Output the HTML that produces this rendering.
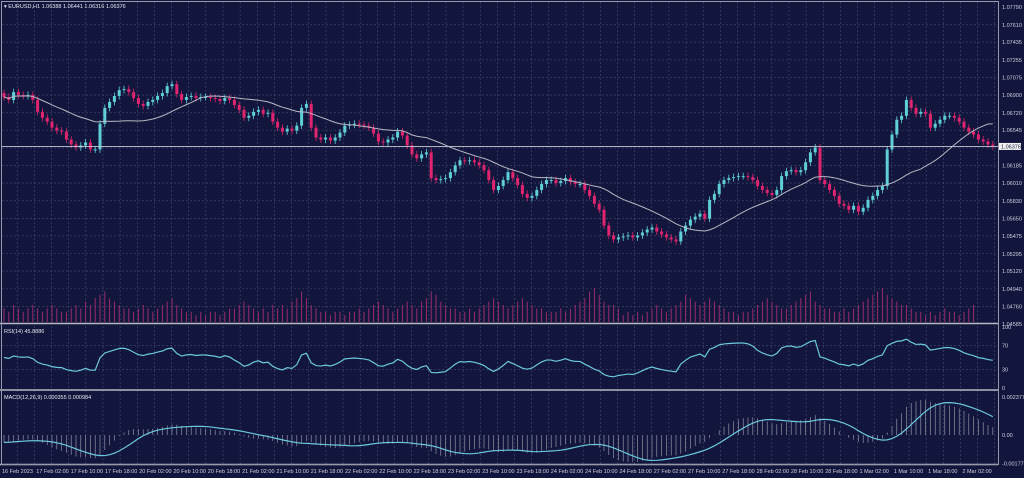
<!DOCTYPE html>
<html><head><meta charset="utf-8"><style>
html,body{margin:0;padding:0;background:#12163c;}
svg{display:block;font-family:"Liberation Sans",sans-serif;}
</style></head><body>
<svg id="chart" width="1024" height="478" viewBox="0 0 1024 478">
<rect x="0" y="0" width="1024" height="478" fill="#12163c"/>
<g id="grid"></g>
<g id="vol"></g>
<g id="candles"></g>
<g id="ind"></g>
<g id="axes"></g>
<text x="4" y="8" font-size="5.5" fill="#e8e8f0">▾ EURUSD,H1  1.06388 1.06441 1.06316 1.06376</text>
<text x="4" y="333" font-size="5.5" fill="#e8e8f0">RSI(14) 45.8886</text>
<text x="4" y="399" font-size="5.5" fill="#e8e8f0">MACD(12,26,9) 0.000355 0.000984</text>
</svg>
<script>
const closes=[1.0688,1.0685,1.0693,1.0690,1.0689,1.0690,1.0685,1.0673,1.0667,1.0663,1.0657,1.0654,1.0653,1.0645,1.0640,1.0637,1.0639,1.0642,1.0635,1.0635,
1.0661,1.0677,1.0683,1.0689,1.0695,1.0696,1.0693,1.0687,1.0681,1.0679,1.0683,1.0685,1.0689,1.0692,1.0699,1.0701,1.0691,1.0685,1.0688,1.0689,
1.0687,1.0688,1.0688,1.0687,1.0686,1.0684,1.0687,1.0685,1.0680,1.0675,1.0667,1.0669,1.0673,1.0675,1.0671,1.0672,1.0663,1.0657,1.0653,1.0656,
1.0654,1.0659,1.0677,1.0681,1.0657,1.0647,1.0645,1.0647,1.0644,1.0647,1.0652,1.0659,1.0660,1.0661,1.0660,1.0659,1.0657,1.0651,1.0643,1.0642,
1.0645,1.0647,1.0653,1.0649,1.0639,1.0630,1.0626,1.0630,1.0632,1.0606,1.0604,1.0605,1.0606,1.0612,1.0619,1.0624,1.0623,1.0624,1.0622,1.0619,
1.0614,1.0604,1.0594,1.0598,1.0604,1.0612,1.0606,1.0599,1.0590,1.0586,1.0588,1.0594,1.0600,1.0604,1.0604,1.0601,1.0603,1.0606,1.0602,1.0600,
1.0600,1.0594,1.0588,1.0580,1.0574,1.0558,1.0548,1.0544,1.0546,1.0547,1.0548,1.0546,1.0548,1.0551,1.0554,1.0556,1.0552,1.0549,1.0546,1.0544,
1.0542,1.0552,1.0558,1.0564,1.0567,1.0570,1.0565,1.0584,1.0590,1.0600,1.0604,1.0606,1.0607,1.0608,1.0608,1.0607,1.0604,1.0598,1.0594,1.0591,
1.0589,1.0594,1.0608,1.0613,1.0614,1.0612,1.0614,1.0622,1.0632,1.0637,1.0604,1.0600,1.0594,1.0588,1.0580,1.0578,1.0574,1.0578,1.0572,1.0576,
1.0584,1.0588,1.0594,1.0598,1.0635,1.0650,1.0665,1.0669,1.0685,1.0677,1.0671,1.0673,1.0671,1.0657,1.0661,1.0665,1.0669,1.0669,1.0667,1.0663,
1.0657,1.0653,1.0650,1.0645,1.0643,1.0640,1.0638];
const volumes=[4,3,5,4,3,4,5,4,3,4,5,4,3,3,4,5,4,6,5,7,8,9,7,6,5,4,4,3,4,5,4,3,4,5,6,7,5,4,3,3,2,3,2,3,3,2,3,4,4,5,6,5,4,3,4,3,5,4,5,4,6,7,9,7,5,4,3,3,2,3,
3,2,3,3,4,3,4,5,6,5,4,3,4,5,6,5,4,6,7,9,8,6,5,4,4,3,3,4,3,4,5,6,7,6,5,4,5,6,7,6,5,4,4,3,3,3,4,3,4,5,6,7,9,10,8,6,5,5,4,2,3,2,3,2,3,4,
5,4,3,4,5,6,8,7,6,5,6,7,6,5,4,3,3,2,3,3,4,5,6,7,6,5,4,4,5,6,7,8,9,6,5,4,4,3,3,4,3,4,5,6,7,8,9,10,8,7,6,5,5,4,3,3,2,3,2,3,4,3,3,2,3,4,5];
const priceTicks=["1.07790","1.07610","1.07435","1.07255","1.07075","1.06900","1.06720","1.06545","1.06365","1.06185","1.06010","1.05830","1.05650","1.05475","1.05295","1.05120","1.04940","1.04760","1.04585"];
const timeLabels=["16 Feb 2023","17 Feb 02:00","17 Feb 10:00","17 Feb 18:00","20 Feb 02:00","20 Feb 10:00","20 Feb 18:00","21 Feb 02:00","21 Feb 10:00","21 Feb 18:00","22 Feb 02:00","22 Feb 10:00","22 Feb 18:00","23 Feb 02:00","23 Feb 10:00","23 Feb 18:00","24 Feb 02:00","24 Feb 10:00","24 Feb 18:00","27 Feb 02:00","27 Feb 10:00","27 Feb 18:00","28 Feb 02:00","28 Feb 10:00","28 Feb 18:00","1 Mar 02:00","1 Mar 10:00","1 Mar 18:00","2 Mar 02:00"];
const rsiTicks=[100,70,30,0];
const macdTicks=[0.002377,0,-0.001779];
const macdTickLabels=["0.002377","0.00","-0.001779"];
const firstOpen=1.0692;

const NS="http://www.w3.org/2000/svg";
function mk(tag,attrs,parent){const e=document.createElementNS(NS,tag);for(const k in attrs)e.setAttribute(k,attrs[k]);parent.appendChild(e);return e;}
const yP=p=>7+(1.0779-p)*9890;
const xC=i=>4+i*4.8;
const yR=v=>388-v*0.61;
const yM=v=>435-v*16000;
const yV=v=>322-v*3.4;
const grid=document.getElementById('grid'),vol=document.getElementById('vol'),cg=document.getElementById('candles'),ind=document.getElementById('ind'),ax=document.getElementById('axes');
const GC="#454b78";
for(let x=17.2;x<998;x+=17.15){const l=mk('line',{x1:x,y1:2,x2:x,y2:464,stroke:GC,'stroke-width':0.6,'stroke-dasharray':'2,2'},grid);

}
priceTicks.forEach((t,i)=>{const y=yP(parseFloat(t));if(i>0&&i<priceTicks.length-1){const l=mk('line',{x1:2,y1:y,x2:998,y2:y,stroke:GC,'stroke-width':0.6,'stroke-dasharray':'2,2'},grid);

}
if(t!=="1.06365"){const tx=mk('text',{x:1002,y:y+2,'font-size':5.5,fill:'#d0d0e0'},ax);tx.textContent=t;

}});
[70,30].forEach(v=>{const l=mk('line',{x1:2,y1:yR(v),x2:998,y2:yR(v),stroke:GC,'stroke-width':0.6,'stroke-dasharray':'2,2'},grid);

});
volumes.forEach((v,i)=>{if(i>=closes.length)return;const l=mk('line',{x1:xC(i),y1:322,x2:xC(i),y2:yV(v),stroke:'#9a2c6a','stroke-width':1},vol);

});
closes.forEach((c,i)=>{const o=i?closes[i-1]:firstOpen;const up=c>=o;const col=up?'#5fd0d8':'#e0246e';const x=xC(i);
const hi=Math.max(o,c)+0.00035,lo=Math.min(o,c)-0.00035;
const w=mk('line',{x1:x,y1:yP(hi),x2:x,y2:yP(lo),stroke:col,'stroke-width':0.8},cg);


const top=yP(Math.max(o,c)),h=Math.max(1,Math.abs(yP(o)-yP(c)));
const b=mk('rect',{x:x-1.5,y:top,width:3,height:h,fill:col},cg);

});
let ma=[];closes.forEach((c,i)=>{const s=closes.slice(Math.max(0,i-21),i+1);ma.push(s.reduce((a,b)=>a+b,0)/s.length);});
const maP=mk('polyline',{points:ma.map((v,i)=>xC(i)+','+yP(v)).join(' '),fill:'none',stroke:'#b8b8c4','stroke-width':1},ind);


const cp=closes[closes.length-1];
const cl=mk('line',{x1:2,y1:yP(cp),x2:998,y2:yP(cp),stroke:'#c8c8d4','stroke-width':0.8},ind);


const cb=mk('rect',{x:999,y:yP(cp)-3.5,width:22,height:7,fill:'#f0f0f0'},ax);


const ct=mk('text',{x:1001,y:yP(cp)+2,'font-size':5.5,fill:'#141a3f'},ax);ct.textContent='1.06376';


// RSI (Wilder smoothing, seeded with neutral averages)
let rsi=[],ag=0.0004,al=0.0004;
closes.forEach((c,i)=>{if(i===0){rsi.push(50);return;}const d=c-closes[i-1];const g=Math.max(d,0),l=Math.max(-d,0);
ag=(ag*13+g)/14;al=(al*13+l)/14;
rsi.push(al===0?100:100-100/(1+ag/al));});
const rP=mk('polyline',{points:rsi.map((v,i)=>xC(i)+','+yR(v)).join(' '),fill:'none',stroke:'#6cc8dc','stroke-width':1.2},ind);


let e12=closes[0],e26=closes[0]+0.0005,macd=[];
closes.forEach(c=>{e12=e12+(c-e12)*2/13;e26=e26+(c-e26)*2/27;macd.push(e12-e26);});
let sig=macd.map((v,i)=>{const s=macd.slice(Math.max(0,i-8),i+1);return s.reduce((a,b)=>a+b,0)/s.length;});
macd.forEach((v,i)=>{const l=mk('line',{x1:xC(i),y1:yM(0),x2:xC(i),y2:yM(v),stroke:'#a8a8b8','stroke-width':0.6},ind);

});
const sP=mk('polyline',{points:sig.map((v,i)=>xC(i)+','+yM(v)).join(' '),fill:'none',stroke:'#6cc8dc','stroke-width':1.2},ind);


rsiTicks.forEach(v=>{const t=mk('text',{x:1002,y:yR(v)+2,'font-size':5.5,fill:'#d0d0e0'},ax);t.textContent=String(v);

});
macdTicks.forEach((v,i)=>{const t=mk('text',{x:1002,y:yM(v)+2,'font-size':5.5,fill:'#d0d0e0'},ax);t.textContent=macdTickLabels[i];

});
timeLabels.forEach((s,i)=>{const t=mk('text',{x:2+i*34.3,y:473,'font-size':5.5,fill:'#d0d0e0'},ax);t.textContent=s;

});
[323.5,390,464.5].forEach(y=>{const l=mk('line',{x1:0,y1:y,x2:998,y2:y,stroke:'#b8b8c4','stroke-width':1.6},ax);

});
const fr=mk('rect',{x:1.5,y:1.5,width:997,height:463,fill:'none',stroke:'#9898a8','stroke-width':1},ax);


</script>
</body></html>
